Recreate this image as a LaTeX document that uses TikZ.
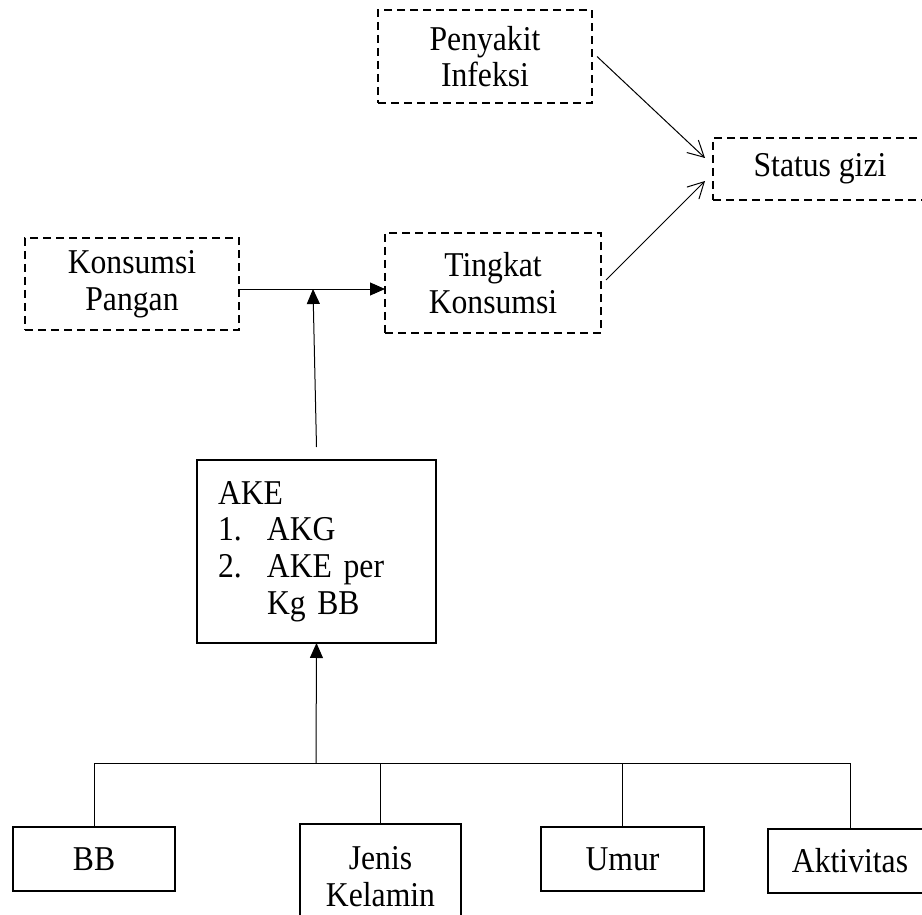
\documentclass[tikz,border=0pt]{standalone}
\usepackage{fontspec}
\setmainfont{Liberation Serif}[FakeStretch=0.91]
\usetikzlibrary{arrows.meta}

\begin{document}
\begin{tikzpicture}[x=0.5pt, y=-0.5pt, line width=0.5pt,
                    every node/.style={font=\fontsize{17.4}{18.3}\selectfont, inner sep=0pt, outer sep=0pt, align=center},
                    dash node/.style={draw, dash pattern=on 4pt off 2.5pt, line width=0.6pt},
                    main node/.style={draw, line width=0.6pt},
                    fill tip/.style={-{Triangle[length=7.5pt,width=6.5pt]}},
                    open tip/.style={-{Straight Barb[length=8pt,width=8.5pt]}}]

  \useasboundingbox (0,0) rectangle (922,915);

  % top row
  \node[dash node, minimum width=107pt, minimum height=46.5pt] (infeksi) at (485,56.5) {Penyakit\\Infeksi};
  \node[dash node, minimum width=107pt, minimum height=31pt] (status) at (820,169) {Status gizi};
  \node[dash node, minimum width=107pt, minimum height=46pt] (pangan) at (132,284) {Konsumsi\\Pangan};
  \node[dash node, minimum width=108pt, minimum height=50pt] (tingkat) at (493,283) {Tingkat\\Konsumsi};

  % middle
  \node[main node, minimum height=91.5pt, text width=98.5pt, inner xsep=10.5pt, align=left] (ake) at (316.5,551.5)
    {AKE\\\makebox[24.5pt][l]{1.}AKG\\\makebox[24.5pt][l]{2.}AKE per\\\hspace*{24.5pt}Kg BB};

  % bottom row
  \node[main node, minimum width=81pt, minimum height=32pt] (bb) at (94,859) {BB};
  \node[main node, minimum width=80.5pt, minimum height=52.5pt] (jenis) at (380.5,876.5) {Jenis\\Kelamin};
  \node[main node, minimum width=81.5pt, minimum height=32pt] (umur) at (622.5,859) {Umur};
  \node[main node, minimum width=82pt, minimum height=32pt] (akt) at (850,861) {Aktivitas};

  \coordinate (join) at (313,289);
  \coordinate (bus) at (316,763);

  \draw[fill tip] (pangan.east |- join) -- (tingkat.west |- join);
  \draw[fill tip] ([yshift=6.5pt]ake.north) -- (join);
  \draw[open tip] ([xshift=2.5pt]infeksi.east) -- ([xshift=-4pt,yshift=5.5pt]status.west);
  \draw[open tip] ([xshift=2.5pt,yshift=1.5pt]tingkat.east) -- ([xshift=-4pt,yshift=-6pt]status.west);

  \draw[fill tip] (bus) -- (ake.south);
  \draw (bb.north |- bus) -- (akt.north |- bus);
  \foreach \n in {bb,jenis,umur,akt}
    \draw (\n.north) -- (\n.north |- bus);

\end{tikzpicture}
\end{document}
